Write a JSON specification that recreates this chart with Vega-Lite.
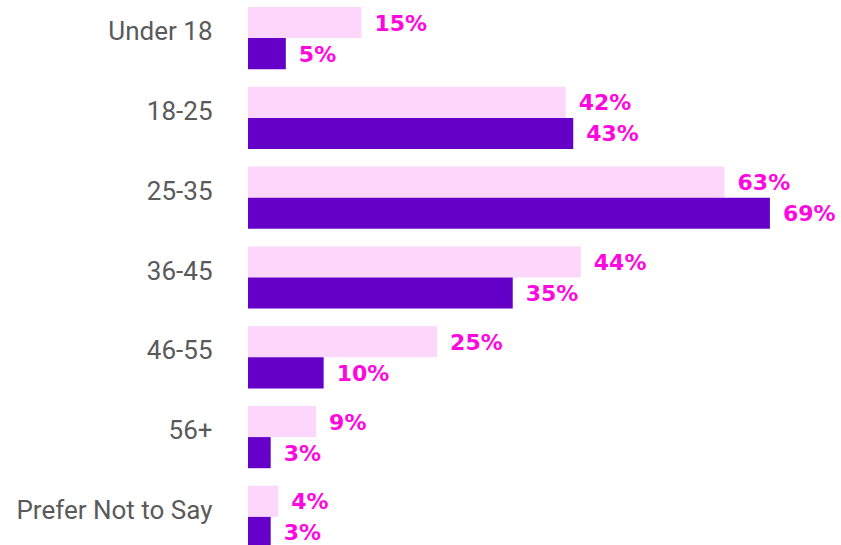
{
  "$schema": "https://vega.github.io/schema/vega-lite/v6.json",
  "autosize": {"type": "none"},
  "padding": {"left": 248, "top": 7, "right": 0, "bottom": 0},
  "width": 593,
  "height": 541,
  "background": "#ffffff",
  "config": {"view": {"stroke": null}},
  "data": {
    "values": [
      {"age": "Under 18", "series": "A", "value": 15, "label": "15%"},
      {"age": "Under 18", "series": "B", "value": 5, "label": "5%"},
      {"age": "18-25", "series": "A", "value": 42, "label": "42%"},
      {"age": "18-25", "series": "B", "value": 43, "label": "43%"},
      {"age": "25-35", "series": "A", "value": 63, "label": "63%"},
      {"age": "25-35", "series": "B", "value": 69, "label": "69%"},
      {"age": "36-45", "series": "A", "value": 44, "label": "44%"},
      {"age": "36-45", "series": "B", "value": 35, "label": "35%"},
      {"age": "46-55", "series": "A", "value": 25, "label": "25%"},
      {"age": "46-55", "series": "B", "value": 10, "label": "10%"},
      {"age": "56+", "series": "A", "value": 9, "label": "9%"},
      {"age": "56+", "series": "B", "value": 3, "label": "3%"},
      {"age": "Prefer Not to Say", "series": "A", "value": 4, "label": "4%"},
      {"age": "Prefer Not to Say", "series": "B", "value": 3, "label": "3%"}
    ]
  },
  "encoding": {
    "y": {
      "field": "age",
      "type": "nominal",
      "sort": null,
      "scale": {"paddingInner": 0.22, "paddingOuter": 0},
      "axis": {
        "title": null,
        "domain": false,
        "ticks": false,
        "labelFontSize": 26,
        "labelFont": "Roboto",
        "labelColor": "#5a5a5a",
        "labelPadding": 36,
        "labelOffset": -6,
        "labelLimit": 300
      }
    },
    "yOffset": {"field": "series", "type": "nominal", "sort": ["A", "B"], "scale": {"paddingInner": 0, "paddingOuter": 0}},
    "x": {
      "field": "value",
      "type": "quantitative",
      "scale": {"domain": [0, 78.4], "nice": false},
      "axis": null
    }
  },
  "layer": [
    {
      "mark": {"type": "bar", "cornerRadius": 0},
      "encoding": {
        "color": {
          "field": "series",
          "type": "nominal",
          "scale": {"domain": ["A", "B"], "range": ["#fdd6fc", "#6400c8"]},
          "legend": null
        }
      }
    },
    {
      "mark": {
        "type": "text",
        "align": "left",
        "baseline": "middle",
        "dx": 13,
        "dy": 1,
        "font": "DejaVu Sans",
        "fontWeight": "bold",
        "fontSize": 22,
        "color": "#ff08e0"
      },
      "encoding": {
        "text": {"field": "label", "type": "nominal"},
        "detail": {"field": "series"}
      }
    }
  ]
}
